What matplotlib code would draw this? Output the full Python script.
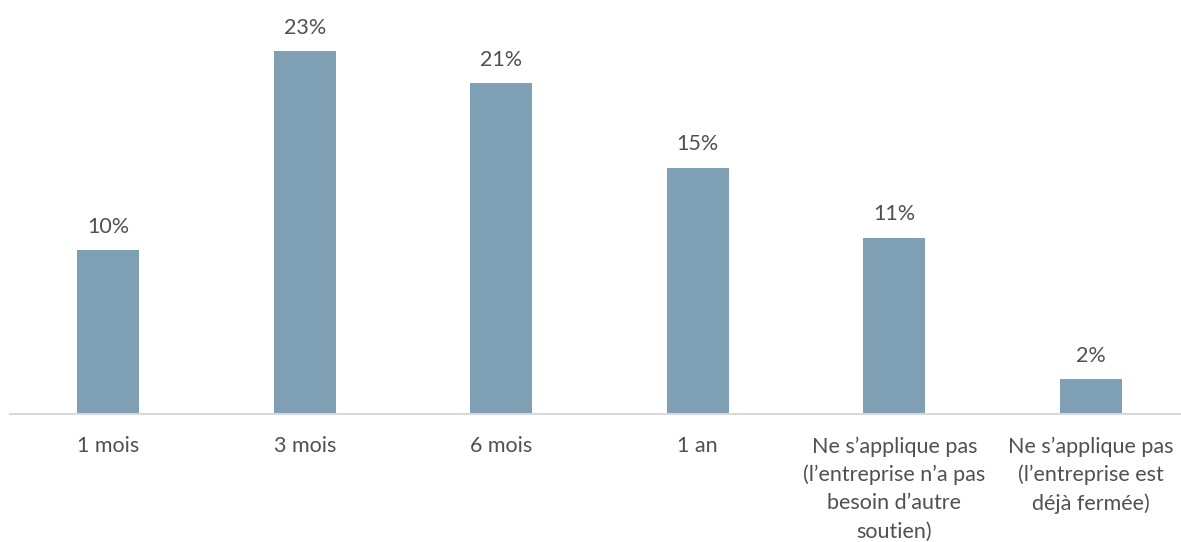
import matplotlib
matplotlib.use("Agg")
import matplotlib.pyplot as plt

categories = ["1 mois", "3 mois", "6 mois", "1 an",
              "Ne s\u2019applique pas\n(l\u2019entreprise n\u2019a pas\nbesoin d\u2019autre\nsoutien)",
              "Ne s\u2019applique pas\n(l\u2019entreprise est\nd\u00e9j\u00e0 ferm\u00e9e)"]
values = [10.3, 22.8, 20.8, 15.5, 11.1, 2.2]
labels = ["10%", "23%", "21%", "15%", "11%", "2%"]

plt.rcParams['font.family'] = ['Lato', 'DejaVu Sans']
W, H = 1181, 542
fig = plt.figure(figsize=(W/100, H/100), dpi=100)
left_px, right_px = 10, 1189
base_px = 414
scale = 15.9  # px per %
ymax = 25
top_px = base_px - ymax*scale
ax = fig.add_axes([left_px/W, (H-base_px)/H, (right_px-left_px)/W, (base_px-top_px)/H])

x = list(range(len(categories)))
ax.bar(x, values, width=62/196.5, color="#7f9fb5", zorder=2)
for xi, v, lab in zip(x, values, labels):
    ax.text(xi, v + 0.85, lab, ha="center", va="bottom", fontsize=15.5, color="#505050")
ax.set_xlim(-0.5, len(categories)-0.5)
ax.set_ylim(0, ymax)
ax.set_yticks([])
ax.set_xticks(x)
ax.set_xticklabels(categories, fontsize=15.5, color="#505050", linespacing=1.5)
ax.tick_params(axis="x", length=0, pad=16)
for s in ["top", "right", "left"]:
    ax.spines[s].set_visible(False)
ax.spines["bottom"].set_color("#d9d9d9")
ax.spines["bottom"].set_linewidth(1.5)
ax.patch.set_alpha(0)
fig.savefig("out.png", dpi=100)
